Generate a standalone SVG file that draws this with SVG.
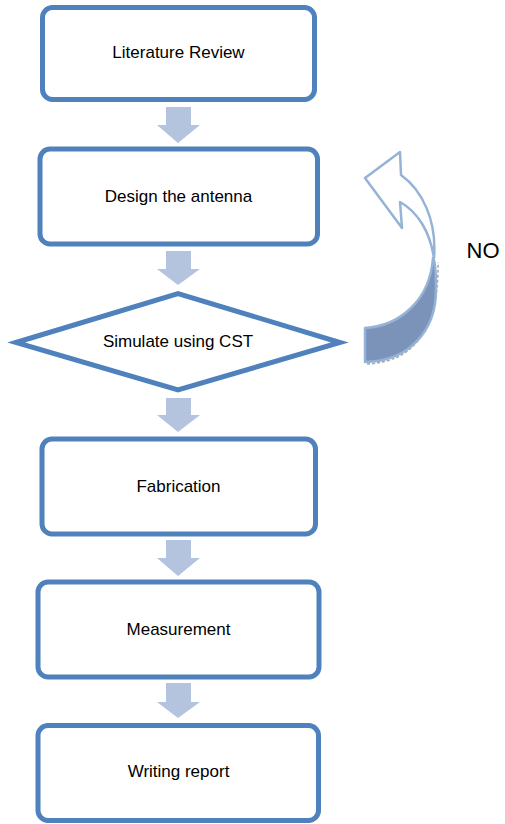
<svg xmlns="http://www.w3.org/2000/svg" width="505" height="824" viewBox="0 0 505 824">
<style>
.box{fill:#fff;stroke:#4f81bd;stroke-width:5}
.lbl{font-family:"Liberation Sans",Arial,sans-serif;font-size:17px;fill:#000;text-anchor:middle}
.flow{fill:#b4c3de;stroke:none}
.loop{stroke:#95b3d7;stroke-width:2.5;stroke-linejoin:round}
</style>
<rect width="505" height="824" fill="#fff"/>
<g id="connectors">
<path class="flow" d="M166,107 H191 V125 H200 L178,143 L157,125 H166 Z"/>
<path class="flow" d="M166,251 H191 V269 H200 L178,285 L157,269 H166 Z"/>
<path class="flow" d="M166,398 H191 V415 H200 L178,432 L157,415 H166 Z"/>
<path class="flow" d="M166,540 H191 V558 H200 L178,576 L157,558 H166 Z"/>
<path class="flow" d="M166,683 H191 V702 H200 L178,718 L157,702 H166 Z"/>
<g id="loop-arrow">
<path d="M367,364 C412,362 439,332 438,262" fill="none" stroke="#a6a6a6" stroke-width="1.5" stroke-dasharray="3,2"/>
<path class="loop" fill="#7b93b9" d="M365,328 C400,326 430,300 433,258 C436,262 436,280 436,290 C436,330 410,361 365,362 Z"/>
<path class="loop" fill="#fff" d="M365,178 L400,152 L401,175 C422,190 437,220 434,258 C430,232 418,212 400,202 L402,228 Z"/>
<text x="483" y="258" style="font-family:'Liberation Sans',Arial,sans-serif;font-size:22px;fill:#000;text-anchor:middle">NO</text>
</g>
</g>
<g id="literature-review">
<rect class="box" x="42.5" y="7.5" width="272" height="92" rx="10"/>
<text class="lbl" x="178.5" y="58">Literature Review</text>
</g>
<g id="design-antenna">
<rect class="box" x="40" y="149" width="277.5" height="95" rx="10"/>
<text class="lbl" x="178.5" y="202">Design the antenna</text>
</g>
<g id="simulate">
<polygon class="box" points="16,342.5 178,293.5 340,342.5 178,390" stroke-linejoin="miter"/>
<text class="lbl" x="178" y="347">Simulate using CST</text>
</g>
<g id="fabrication">
<rect class="box" x="42" y="439" width="273.5" height="95" rx="10"/>
<text class="lbl" x="178.5" y="492">Fabrication</text>
</g>
<g id="measurement">
<rect class="box" x="38" y="582" width="281" height="95" rx="10"/>
<text class="lbl" x="178.5" y="635">Measurement</text>
</g>
<g id="writing-report">
<rect class="box" x="38" y="725.5" width="280.5" height="95" rx="10"/>
<text class="lbl" x="178.5" y="777">Writing report</text>
</g>
</svg>
